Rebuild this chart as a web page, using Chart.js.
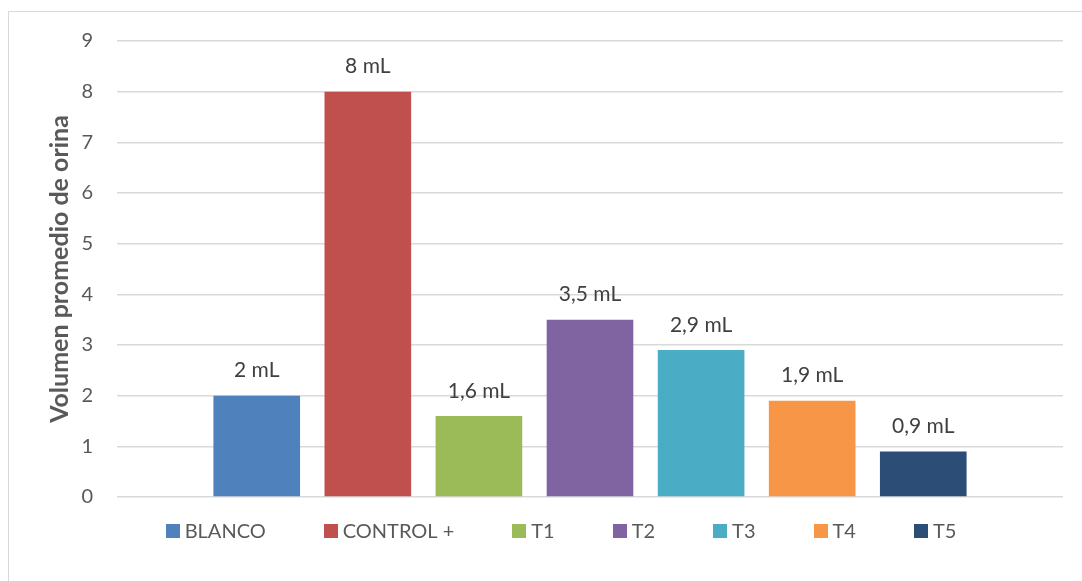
<!DOCTYPE html>
<html lang="es">
<head>
<meta charset="utf-8">
<title>Volumen promedio de orina</title>
<script src="https://cdn.jsdelivr.net/npm/chart.js@4.4.1/dist/chart.umd.min.js"></script>
<style>
  html, body { margin: 0; padding: 0; background: #ffffff; overflow: hidden; }
  #wrap { position: relative; width: 1082px; height: 581px; }
  #frame { position: absolute; left: 8px; top: 11px; width: 2000px; height: 2000px;
           border: 1px solid #d9d9d9; box-sizing: border-box; }
  canvas { position: absolute; left: 0; top: 0; }
</style>
</head>
<body>
<div id="wrap">
  <div id="frame"></div>
  <canvas id="chart" width="1082" height="581"></canvas>
</div>
<script>
// Grupos del ensayo y volumen promedio de orina (mL)
const seriesNames = ['BLANCO', 'CONTROL +', 'T1', 'T2', 'T3', 'T4', 'T5'];
const volumes = [2, 8, 1.6, 3.5, 2.9, 1.9, 0.9];
const seriesColors = ['#4F81BD', '#C0504D', '#9BBB59', '#8064A2', '#4BACC6', '#F79646', '#2C4D75'];
const yTicks = [0, 1, 2, 3, 4, 5, 6, 7, 8, 9];
const yTitle = 'Volumen promedio de orina';
const unit = 'mL';

const FONT = 'Lato, "Open Sans", sans-serif';
const TEXT_GREY = '#595959';

const fmt = v => String(v).replace('.', ',') + ' ' + unit;

// Value labels above each bar
const valueLabels = {
  id: 'valueLabels',
  afterDatasetsDraw(chart) {
    const ctx = chart.ctx;
    ctx.save();
    ctx.font = '21px ' + FONT;
    ctx.fillStyle = '#404040';
    ctx.textAlign = 'center';
    ctx.textBaseline = 'middle';
    chart.data.datasets.forEach((ds, i) => {
      const meta = chart.getDatasetMeta(i);
      meta.data.forEach((bar, j) => {
        ctx.fillText(fmt(ds.data[j]), bar.x, bar.y - 25);
      });
    });
    ctx.restore();
  }
};

// Legend row along the bottom
const bottomLegend = {
  id: 'bottomLegend',
  afterDraw(chart) {
    const ctx = chart.ctx;
    const box = 14, textGap = 5, itemGap = 58, centerX = 561, centerY = 531;
    ctx.save();
    ctx.font = '20px ' + FONT;
    ctx.textBaseline = 'middle';
    ctx.textAlign = 'left';
    const items = chart.data.datasets.map(ds => ({
      label: ds.label, color: ds.backgroundColor,
      w: box + textGap + ctx.measureText(ds.label).width
    }));
    const total = items.reduce((s, it) => s + it.w, 0) + itemGap * (items.length - 1);
    let x = centerX - total / 2;
    items.forEach(it => {
      ctx.fillStyle = it.color;
      ctx.fillRect(Math.round(x), centerY - box / 2, box, box);
      ctx.fillStyle = TEXT_GREY;
      ctx.fillText(it.label, x + box + textGap, centerY + 1);
      x += it.w + itemGap;
    });
    ctx.restore();
  }
};

const datasets = seriesNames.map((name, i) => ({
  label: name,
  data: [volumes[i]],
  backgroundColor: seriesColors[i],
  borderWidth: 0,
  categoryPercentage: 0.822,
  barPercentage: 0.78
}));

new Chart(document.getElementById('chart'), {
  type: 'bar',
  data: { labels: [''], datasets },
  options: {
    responsive: false,
    animation: false,
    layout: { padding: { left: 0, right: 19, top: 41, bottom: 84 } },
    plugins: {
      legend: { display: false },
      tooltip: { enabled: false }
    },
    scales: {
      x: { display: false },
      y: {
        min: 0,
        max: 9,
        afterFit(scale) { scale.width = 117; },
        afterBuildTicks(scale) { scale.ticks = yTicks.map(v => ({ value: v })); },
        grid: { color: '#d9d9d9', lineWidth: 1.5, drawTicks: false },
        border: { display: false },
        ticks: { padding: 24, color: TEXT_GREY, font: { family: FONT, size: 20 } },
        title: {
          display: true,
          text: yTitle,
          color: TEXT_GREY,
          font: { family: FONT, size: 25, weight: 'bold' },
          padding: { top: 45, bottom: 0 }
        }
      }
    }
  },
  plugins: [valueLabels, bottomLegend]
});
</script>
</body>
</html>
